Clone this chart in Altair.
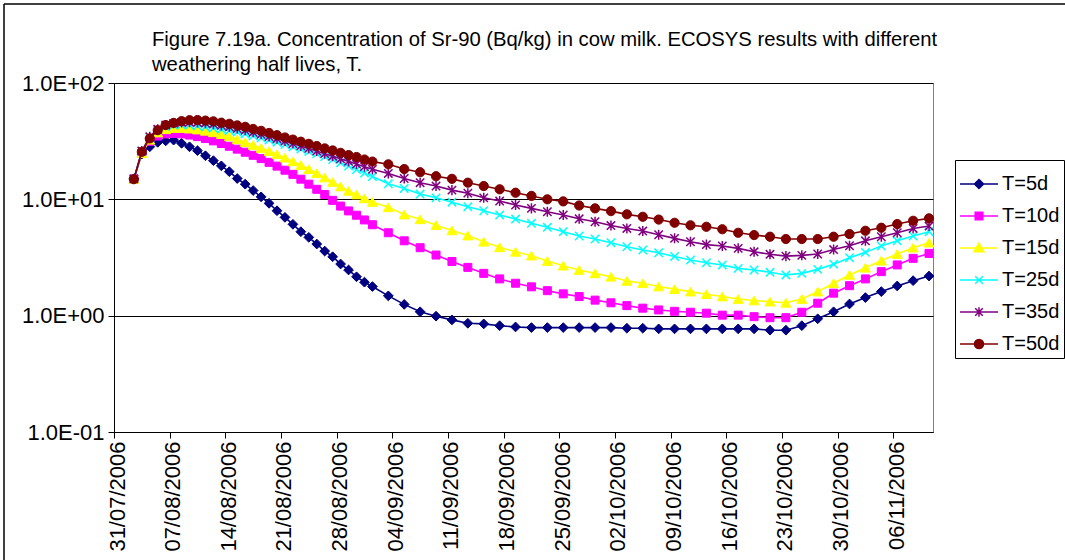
import altair as alt
import pandas as pd

# Sampling dates: daily up to 1 September, then every second day
daily_dates = pd.date_range("2006-08-02", "2006-09-01", freq="D")
twoday_dates = pd.date_range("2006-09-03", "2006-11-10", freq="2D")
sample_dates = list(daily_dates) + list(twoday_dates)

# Weekly tick dates on the time axis
tick_dates = pd.date_range("2006-07-31", "2006-11-06", freq="7D")
axis_start = pd.Timestamp("2006-07-31")
axis_end = pd.Timestamp("2006-11-11")

series_names = ["T=5d", "T=10d", "T=15d", "T=25d", "T=35d", "T=50d"]
series_colors = ["#000080", "#FF00FF", "#FFFF00", "#00FFFF", "#800080", "#800000"]

# Sr-90 concentration in milk (Bq/kg)
t5 = [15.0, 24.5, 28.3, 30.9, 31.8, 32.3, 30.3, 28.3, 26.2, 23.7, 21.5, 19.4, 17.3, 15.1, 13.5, 11.9,
      10.5, 9.24, 7.98, 7.0, 6.1, 5.27, 4.71, 4.13, 3.59, 3.21, 2.78, 2.47, 2.16, 1.94, 1.78,
      1.48, 1.25, 1.08, 0.99, 0.92, 0.86, 0.85, 0.82, 0.80, 0.79, 0.79, 0.79, 0.79, 0.79, 0.79, 0.78,
      0.78, 0.77, 0.77, 0.77, 0.77, 0.77, 0.77, 0.77, 0.75, 0.75, 0.82, 0.94, 1.08, 1.26, 1.43, 1.61,
      1.80, 2.0, 2.19]
t10 = [15.0, 25.0, 31.5, 35.0, 36.5, 36.8, 36.5, 35.7, 34.6, 33.3, 31.8, 30.2, 28.6, 27.0, 25.4, 23.9,
       22.4, 20.8, 19.3, 17.8, 16.4, 14.9, 13.5, 12.2, 11.0, 9.8, 8.75, 7.95, 7.3, 6.65, 6.05,
       5.16, 4.40, 3.84, 3.32, 2.92, 2.60, 2.31, 2.07, 1.90, 1.77, 1.64, 1.54, 1.46, 1.36, 1.29, 1.22,
       1.16, 1.12, 1.09, 1.07, 1.05, 1.01, 1.01, 0.98, 0.96, 0.96, 1.07, 1.28, 1.56, 1.81, 2.07, 2.39,
       2.73, 3.11, 3.43]
t15 = [15.0, 25.0, 32.5, 37.5, 40.0, 41.0, 41.0, 40.5, 39.8, 38.8, 37.7, 36.3, 34.8, 32.8, 31.0, 29.3,
       27.6, 26.0, 24.4, 22.8, 21.2, 19.7, 18.2, 16.8, 15.4, 14.1, 12.9, 11.8, 11.0, 10.2, 9.5,
       8.54, 7.4, 6.73, 6.0, 5.4, 4.88, 4.32, 3.87, 3.54, 3.28, 2.95, 2.69, 2.47, 2.31, 2.16, 1.99,
       1.90, 1.78, 1.69, 1.61, 1.53, 1.46, 1.39, 1.35, 1.32, 1.29, 1.39, 1.61, 1.90, 2.24, 2.58, 2.97,
       3.39, 3.84, 4.24]
t25 = [15.0, 26.0, 34.0, 39.5, 42.3, 43.5, 43.8, 43.5, 42.8, 41.9, 41.0, 40.0, 39.0, 37.8, 36.5, 35.2,
       33.8, 32.4, 31.0, 29.6, 28.3, 27.0, 25.8, 24.6, 23.3, 22.0, 20.6, 19.3, 18.0, 16.8, 15.7,
       13.6, 12.4, 11.1, 10.3, 9.45, 8.64, 7.98, 7.33, 6.77, 6.22, 5.75, 5.27, 4.84, 4.56, 4.24, 3.91,
       3.67, 3.47, 3.23, 3.01, 2.85, 2.73, 2.55, 2.47, 2.36, 2.24, 2.31, 2.50, 2.77, 3.15, 3.50, 3.97,
       4.40, 4.84, 5.27]
t35 = [15.0, 26.0, 34.5, 40.0, 43.5, 45.0, 45.8, 46.0, 45.8, 45.2, 44.3, 43.2, 42.0, 40.6, 39.2, 37.7,
       36.2, 34.7, 33.2, 31.7, 30.2, 28.8, 27.4, 26.0, 24.7, 23.5, 22.3, 21.2, 20.1, 19.1, 18.1,
       16.7, 15.1, 13.9, 13.0, 12.0, 11.3, 10.3, 9.67, 8.94, 8.36, 7.82, 7.33, 6.8, 6.42, 5.95, 5.62,
       5.34, 4.96, 4.62, 4.32, 4.08, 3.97, 3.79, 3.54, 3.37, 3.25, 3.30, 3.39, 3.70, 3.99, 4.40, 4.77,
       5.16, 5.62, 5.89]
t50 = [14.9, 25.6, 33.4, 39.3, 43.5, 45.4, 47.0, 47.9, 48.0, 47.5, 46.8, 45.6, 44.6, 43.2, 42.0, 40.3,
       38.8, 37.2, 35.6, 34.0, 32.6, 31.3, 30.0, 28.7, 27.4, 26.3, 25.1, 24.0, 23.1, 22.0, 21.1,
       20.0, 18.2, 17.1, 15.8, 15.0, 13.9, 13.0, 12.2, 11.4, 10.7, 10.0, 9.6, 8.85, 8.36, 7.92, 7.43,
       7.08, 6.7, 6.29, 5.98, 5.81, 5.53, 5.16, 4.93, 4.77, 4.56, 4.56, 4.56, 4.77, 5.03, 5.37, 5.70,
       6.13, 6.54, 6.86]
series_values = [t5, t10, t15, t25, t35, t50]

y_tick_values = [0.1, 1, 10, 100]
y_tick_labels = ["1.0E-01", "1.0E+00", "1.0E+01", "1.0E+02"]

title_lines = [
    "Figure 7.19a. Concentration of Sr-90 (Bq/kg) in cow milk. ECOSYS results with different",
    "weathering half lives, T.",
]

FONT = "Liberation Sans"


def to_ms(ts):
    return int((ts - pd.Timestamp("1970-01-01")) // pd.Timedelta(milliseconds=1))


# Each daily value sits in the middle of its day slot
rows = []
for name, vals in zip(series_names, series_values):
    for d, v in zip(sample_dates, vals):
        rows.append({"series": name, "t": to_ms(d + pd.Timedelta(hours=12)), "v": v})
df = pd.DataFrame(rows)

y_label_expr = " : ".join(
    f"datum.value < {v * 1.5} ? '{lab}'" for v, lab in zip(y_tick_values[:-1], y_tick_labels[:-1])
) + f" : '{y_tick_labels[-1]}'"

x_enc = alt.X(
    "t:T",
    scale=alt.Scale(type="utc", domain=[to_ms(axis_start), to_ms(axis_end)], nice=False),
    axis=alt.Axis(
        values=[to_ms(d) for d in tick_dates],
        labelExpr="utcFormat(datum.value, '%d/%m/%Y')",
        labelAngle=270, labelAlign="right", labelBaseline="middle",
        labelFontSize=22, labelPadding=3, labelOffset=3, labelOverlap=False, labelFlush=False,
        tickSize=6, grid=False, title=None,
    ),
)
y_enc = alt.Y(
    "v:Q",
    scale=alt.Scale(type="log", domain=[0.1, 100], nice=False),
    axis=alt.Axis(
        values=y_tick_values, labelExpr=y_label_expr,
        labelFontSize=22, labelPadding=4, tickSize=6,
        grid=True, gridColor="black", gridOpacity=1, gridWidth=1, title=None,
    ),
)

# Marker glyphs on the curves
x_path = "M-1,-1L1,1M-1,1L1,-1"
star_path = "M-1,-1L1,1M-1,1L1,-1M0,-1.2L0,1.2"
marker_specs = [
    dict(shape="diamond", filled=True, size=95),
    dict(shape="square", filled=True, size=64),
    dict(shape="triangle-up", filled=True, size=100),
    dict(shape=x_path, filled=False, size=70),
    dict(shape=star_path, filled=False, size=70),
    dict(shape="circle", filled=True, size=85),
]

# Legend glyphs: a short line with the marker in the middle
legend_paths = [
    "M-1,0L1,0M0,-0.24L0.24,0L0,0.24L-0.24,0Z",
    "M-1,0L1,0M-0.2,-0.2L0.2,-0.2L0.2,0.2L-0.2,0.2Z",
    "M-1,0L1,0M0,-0.26L0.26,0.2L-0.26,0.2Z",
    "M-1,0L1,0M-0.2,-0.2L0.2,0.2M-0.2,0.2L0.2,-0.2",
    "M-1,0L1,0M-0.2,-0.2L0.2,0.2M-0.2,0.2L0.2,-0.2M0,-0.25L0,0.25",
    "M-1,0L1,0M0.24,0A0.24,0.24 0 1,1 -0.24,0A0.24,0.24 0 1,1 0.24,0Z",
]

layers = []
for name, color, spec in zip(series_names, series_colors, marker_specs):
    base = alt.Chart(df).transform_filter(alt.datum.series == name)
    layers.append(base.mark_line(color=color, strokeWidth=1.6).encode(x=x_enc, y=y_enc))
    if spec["filled"]:
        pts = base.mark_point(shape=spec["shape"], filled=True, size=spec["size"], color=color,
                              stroke=color, strokeWidth=1, opacity=1)
    else:
        pts = base.mark_point(shape=spec["shape"], filled=False, size=spec["size"], color=color,
                              strokeWidth=1.5, opacity=1)
    layers.append(pts.encode(x=x_enc, y=y_enc))

legend = alt.Legend(
    orient="none", legendX=841, legendY=77, title=None,
    strokeColor="black", fillColor="white", padding=4,
    symbolSize=1444, symbolStrokeWidth=1.5, symbolOpacity=1,
    labelFont=FONT, labelFontSize=20, labelColor="black", labelOffset=3,
    rowPadding=2,
)
legend_layer = alt.Chart(df).transform_filter("false").mark_point(
    filled=True, opacity=1, strokeWidth=1.5
).encode(
    x=x_enc, y=y_enc,
    fill=alt.Fill("series:N", scale=alt.Scale(domain=series_names, range=series_colors), legend=legend),
    stroke=alt.Stroke("series:N", scale=alt.Scale(domain=series_names, range=series_colors), legend=legend),
    shape=alt.Shape("series:N", scale=alt.Scale(domain=series_names, range=legend_paths), legend=legend),
)

# Outer frame of the figure and the two-line caption
frame_df = pd.DataFrame({"edge": ["top", "left", "caption"]})
frame_top = alt.Chart(frame_df).transform_filter(alt.datum.edge == "top").mark_rule(
    color="black", strokeWidth=1.5
).encode(x=alt.value(-110), x2=alt.value(960), y=alt.value(-79))
frame_left = alt.Chart(frame_df).transform_filter(alt.datum.edge == "left").mark_rule(
    color="black", strokeWidth=1.5
).encode(x=alt.value(-110), y=alt.value(-79), y2=alt.value(480))
caption = alt.Chart(frame_df).transform_filter(alt.datum.edge == "caption").mark_text(
    text=title_lines, align="left", baseline="alphabetic", font=FONT, fontSize=20.25,
    lineHeight=25, color="black",
).encode(x=alt.value(38), y=alt.value(-37))

chart = alt.layer(*layers, legend_layer, frame_top, frame_left, caption).properties(
    width=819, height=349,
    autosize=alt.AutoSizeParams(type="none"),
    padding={"left": 114, "top": 83, "right": 132, "bottom": 128},
    background="white",
).configure_view(
    stroke="#808080", strokeWidth=1
).configure_axis(
    domainColor="black", tickColor="black", labelColor="black", labelFont=FONT,
    domainWidth=1, tickWidth=1,
)

chart.save("out.html", embed_options={"renderer": "svg", "actions": False})
